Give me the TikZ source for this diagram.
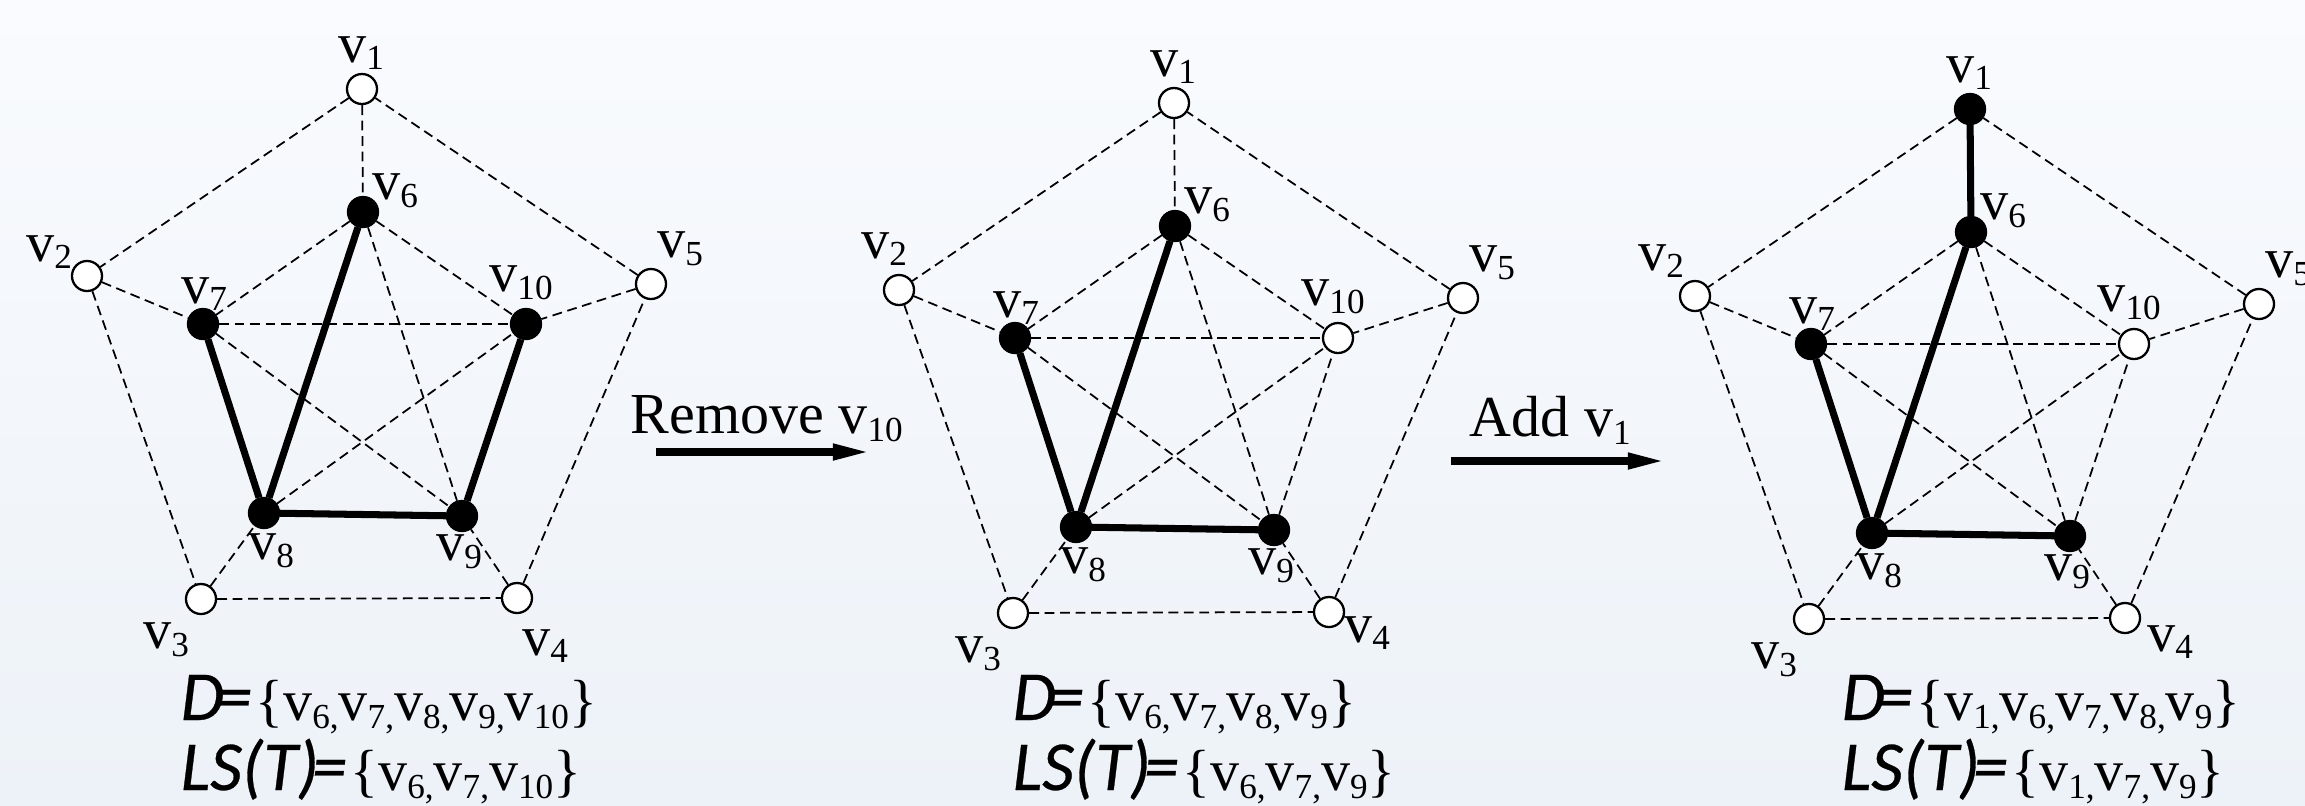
\documentclass[tikz,border=0pt]{standalone}
\usepackage{fontspec}
\setmainfont{Liberation Serif}
\newfontface\setsans[FakeBold=0.4]{Carlito Italic}
\usetikzlibrary{arrows.meta, calc}
\definecolor{bgtop}{RGB}{249,251,254}
\definecolor{bgbot}{RGB}{237,242,248}

% vertex name with index
\newcommand{\vv}[1]{v\raisebox{-0.3ex}{\fontsize{10}{10}\selectfont #1}}
% left hand side of a set line
\newcommand{\lhs}[1]{{\setsans\fontsize{20}{24}\selectfont #1\kern-0.1em=}\kern0.06em}

% one graph: open vertices, selected vertices, tree edges, label offsets of v2 and v4
\newcommand{\petgraph}[5]{%
  \foreach \i/\x/\y/\dx/\dy in {1/0/0/-1/-36, 2/-275/187/#4, 3/-161/510/-35/41, 4/155/509/#5,
      5/289/195/29/-35, 6/1/123/32/-21, 7/-159/235/1/-30, 8/-98/424/7/38, 9/100/427/-3/36, 10/164/235/-5/-41}
    {\coordinate (c\i) at (\x,\y);
     \node[lbl] (l\i) at ($(c\i)+(\dx,\dy)$) {\vv{\i}};}
  \foreach \i in {#1} \node[vtx] (v\i) at (c\i) {};
  \foreach \i in {#2} \node[sel] (v\i) at (c\i) {};
  \foreach \a/\b in {1/2,2/3,3/4,4/5,5/1,1/6,2/7,3/8,4/9,5/10,6/7,6/8,6/9,6/10,7/8,7/9,7/10,8/9,8/10,9/10}
    \draw[edge] (v\a) -- (v\b);
  \foreach \a/\b in {#3} \draw[tree] (v\a) -- (v\b);
}

\begin{document}
\begin{tikzpicture}[
  x=0.01cm, y=-0.01cm,
  vtx/.style={circle, draw, fill=white, line width=0.65pt, minimum size=0.3cm, inner sep=0pt},
  sel/.style={vtx, fill=black},
  lbl/.style={inner sep=0pt, font=\fontsize{16}{18}\selectfont},
  edge/.style={line width=0.5pt, dash pattern=on 2.8pt off 1.6pt},
  tree/.style={line width=2pt},
  setline/.style={inner sep=0pt, anchor=base west, font=\fontsize{16.5}{20}\selectfont},
  caption/.style={inner sep=0pt, anchor=base west, font=\fontsize{16.5}{20}\selectfont},
  move/.style={line width=2pt, -{Triangle[length=0.37cm, width=0.15cm]}}
]

% Background
\useasboundingbox (0,0) rectangle (2305,805);
\shade[top color=bgtop, bottom color=bgbot] (0,0) rectangle (2305,805);

% Graph before removal
\begin{scope}[shift={(362,89)}, name prefix=ga-]
  \petgraph{1,2,3,4,5}{6,7,8,9,10}{6/8,7/8,8/9,9/10}{-38/-24}{28/48}
\end{scope}

% Graph after removing v10
\begin{scope}[shift={(1174,103)}, name prefix=gb-]
  \petgraph{1,2,3,4,5,10}{6,7,8,9}{6/8,7/8,8/9}{-15/-41}{38/21}
\end{scope}

% Graph after adding v1
\begin{scope}[shift={(1970,109)}, name prefix=gc-]
  \petgraph{2,3,4,5,10}{1,6,7,8,9}{1/6,6/8,7/8,8/9}{-34/-35}{45/24}
\end{scope}

% Steps
\node[caption] (rm) at (630,433) {Remove \vv{10}};
\coordinate (rms) at (656,452);
\coordinate (rme) at (870,452);
\draw[move] (rms) -- (rme);

\node[caption] (ad) at (1469,436) {Add \vv{1}};
\coordinate (ads) at (1451,461);
\coordinate (ade) at (1665,461);
\draw[move] (ads) -- (ade);

% Sets
\node[setline] (da) at (180,720) {\lhs{D}\{\vv{6,}\vv{7,}\vv{8,}\vv{9,}\vv{10}\}};
\node[setline] (la) at (180,790) {\lhs{LS(T)}\{\vv{6,}\vv{7,}\vv{10}\}};
\node[setline] (db) at (1012,720) {\lhs{D}\{\vv{6,}\vv{7,}\vv{8,}\vv{9}\}};
\node[setline] (lb) at (1012,790) {\lhs{LS(T)}\{\vv{6,}\vv{7,}\vv{9}\}};
\node[setline] (dc) at (1841,720) {\lhs{D}\{\vv{1,}\vv{6,}\vv{7,}\vv{8,}\vv{9}\}};
\node[setline] (lc) at (1841,790) {\lhs{LS(T)}\{\vv{1,}\vv{7,}\vv{9}\}};

\end{tikzpicture}
\end{document}
